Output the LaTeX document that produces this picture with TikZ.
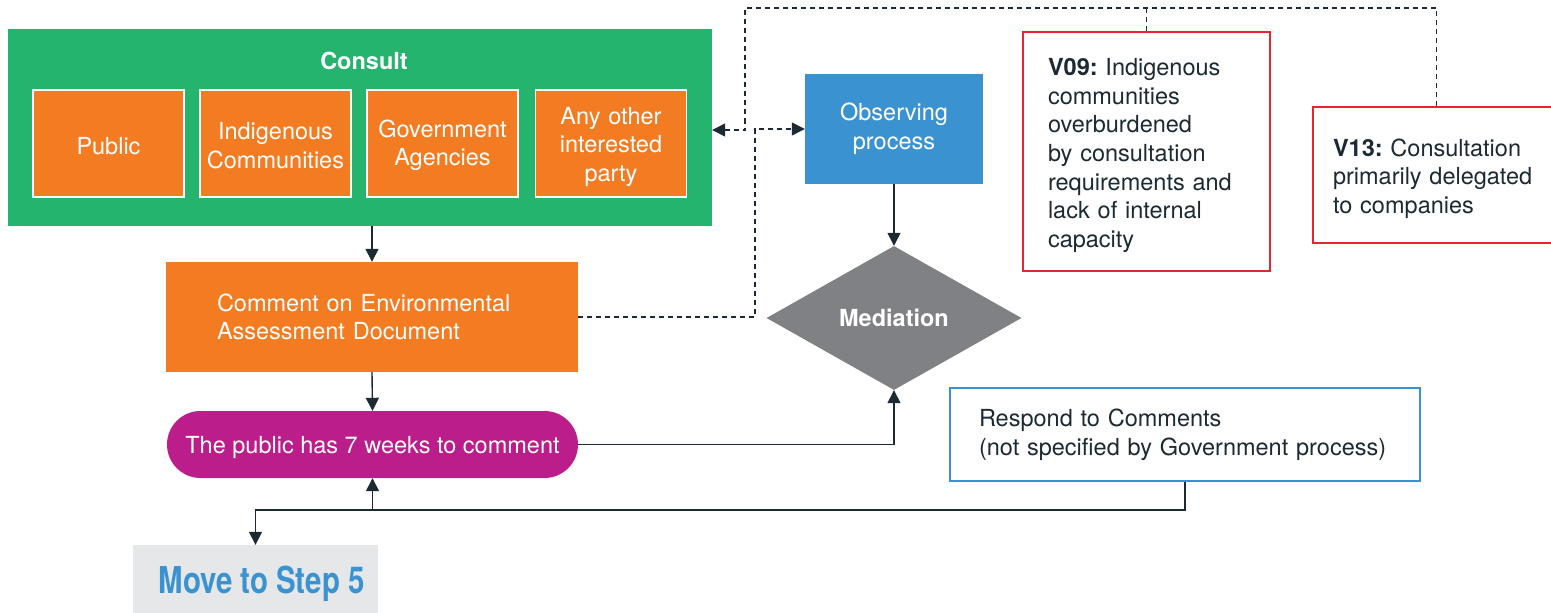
\documentclass[tikz,border=0pt]{standalone}
\usepackage{fontspec}
\setmainfont{TeX Gyre Heros}
\usetikzlibrary{arrows.meta,shapes.geometric}
\frenchspacing

\definecolor{consultgreen}{HTML}{25B46E}
\definecolor{boxorange}{HTML}{F37B21}
\definecolor{procblue}{HTML}{3A93D0}
\definecolor{pillmagenta}{HTML}{BB1D8A}
\definecolor{medgray}{HTML}{808184}
\definecolor{issuered}{HTML}{E6262C}
\definecolor{linedark}{HTML}{1B2A33}
\definecolor{stepgray}{HTML}{E6E7E8}

% strut that lowers a text block by enlarging its first line
\newcommand{\toppad}[1]{\rule{0pt}{#1}}

\tikzset{
  base/.style={font=\fontsize{23.5pt}{28.7pt}\selectfont, inner sep=0pt, rectangle},
  party/.style={base, fill=boxorange, draw=white, line width=1.5pt, text=white,
    minimum width=151pt, minimum height=107pt, text width=151pt, align=center},
  issue/.style={base, draw=issuered, line width=2pt, fill=white, text=linedark,
    minimum width=247pt, align=left},
  flow/.style={draw=linedark, line width=1.4pt, -{Triangle[length=13pt,width=13pt]}},
  dashline/.style={draw=linedark, line width=1.3pt, dash pattern=on 5pt off 4pt},
  dasharr/.style={dashline, -{Triangle[length=13pt,width=13pt]}},
}

\begin{document}
\begin{tikzpicture}[x=1pt, y=-1pt]
\useasboundingbox (0,0) rectangle (1551,613);

% Consult group with its four parties
\node[base, fill=consultgreen, minimum width=704pt, minimum height=197pt] (consult) at (360,127.5) {};
\node[base, text=white, font=\fontsize{23.5pt}{28.7pt}\selectfont\bfseries] (consulttitle) at (364,61) {Consult};
\node[party] (public) at (108.5,143.5) {\toppad{22pt}Public};
\node[party] (indig) at (275.5,143.5) {\toppad{21pt}Indigenous\\Communities};
\node[party] (gov) at (442.5,143.5) {\toppad{21pt}Government\\Agencies};
\node[party] (other) at (611,143.5) {\toppad{24pt}Any other\\interested\\party};

% Main flow
\node[base, fill=boxorange, text=white, minimum width=412pt, minimum height=110pt,
      text width=310pt, align=left] (comment) at (372,317)
  {Comment on Environmental\\Assessment Document};
\node[base, fill=pillmagenta, text=white, minimum width=411pt, minimum height=67pt,
      text height=23pt, text depth=5pt,
      rounded corners=33.5pt] (pill) at (372.5,444.5) {The public has 7 weeks to comment};
\node[base, fill=stepgray, minimum width=245pt, minimum height=68pt,
      text height=29pt, text depth=0pt] (move) at (255.5,579)
  {\kern12pt\textcolor{procblue}{\fontsize{37pt}{40pt}\selectfont\bfseries\scalebox{0.795}[1]{Move to Step 5}}};

% Observation and mediation
\node[base, fill=procblue, text=white, minimum width=178pt, minimum height=110pt, align=center]
  (obs) at (894,129) {Observing\\process};
\node[diamond, fill=medgray, text=white, inner sep=0pt, aspect=1.77,
      minimum width=255pt, minimum height=144pt,
      font=\fontsize{23.5pt}{28.7pt}\selectfont\bfseries] (med) at (894,318) {Mediation};

\node[base, draw=procblue, line width=1.6pt, fill=white, text=linedark,
      minimum width=470pt, minimum height=93pt, text width=412pt, align=left]
  (respond) at (1185,434.5) {Respond to Comments\\(not specified by Government process)};

% Issue call-outs
\node[issue, minimum height=239pt, text width=197pt] (v09) at (1146.5,151.5)
  {\toppad{25pt}\textbf{V09:} Indigenous\\communities\\overburdened\\by consultation\\requirements and\\lack of internal\\capacity};
\node[issue, minimum height=136pt, text width=207pt] (v13) at (1436.5,175)
  {\toppad{25pt}\textbf{V13:} Consultation\\primarily delegated\\to companies};

% Helper coordinates for routed connectors
\coordinate (bus) at (0,510);
\coordinate (topline) at (0,8);
\coordinate (obsjog) at (755,129);
\coordinate (consultjog) at (745,130);

% Solid connectors
\draw[flow] (comment.north |- consult.south) -- (comment.north);
\draw[flow] (comment.south) -- (pill.north);
\draw[flow] (pill.east) -| (med.south);
\draw[flow] (obs.south) -- (med.north);
\draw[flow] (respond.south) |- (bus -| move.north) -- (move.north);
\draw[flow] (pill.south |- bus) -- (pill.south);

% Dashed connectors
\draw[dasharr] (comment.east) -| (obsjog) -- (obs.west);
\draw[dasharr] (v13.north) -- (v13.north |- topline) -| (consultjog) -- (consult.east |- consultjog);
\draw[dashline] (v09.north) -- (v09.north |- topline);
\end{tikzpicture}
\end{document}
